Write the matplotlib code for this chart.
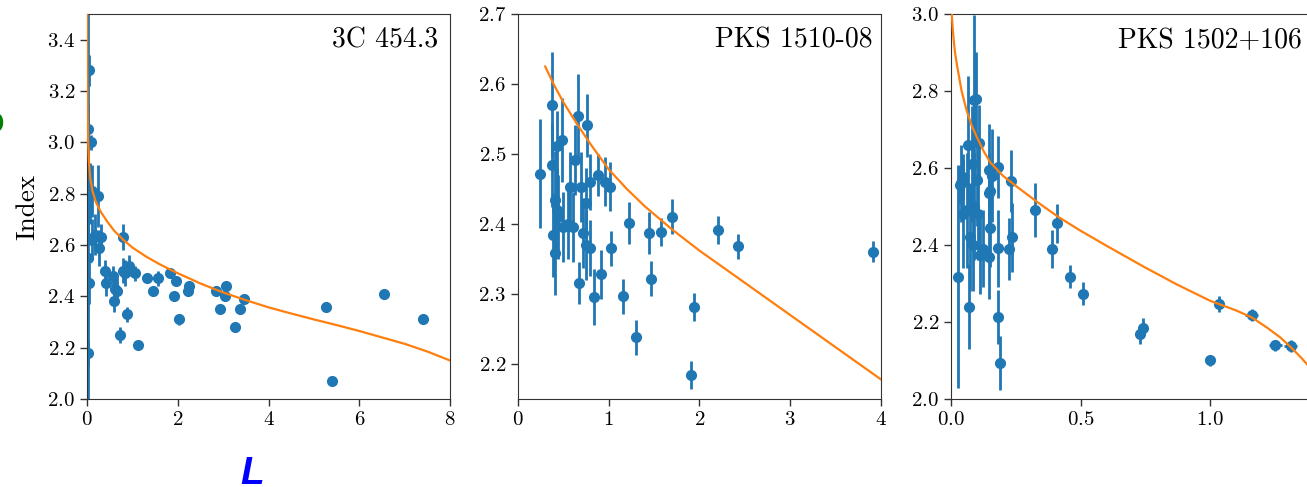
import matplotlib
matplotlib.use('Agg')
import matplotlib.pyplot as plt
import numpy as np

plt.rcParams['font.family'] = 'cmr10'
plt.rcParams['mathtext.fontset'] = 'cm'
plt.rcParams['axes.formatter.use_mathtext'] = True
plt.rcParams['axes.unicode_minus'] = False

# 3C 454.3
p1_x = [0.015, 0.03, 0.05, 0.08, 0.03, 0.05, 0.07, 0.12, 0.25, 0.10, 0.18, 0.30, 0.27,
        0.80, 0.40, 0.42, 0.58, 0.62, 0.60, 0.65, 0.73, 0.80, 0.84, 0.88, 0.92, 1.06,
        1.13, 1.32, 1.45, 1.57, 1.82, 1.92, 1.97, 2.02, 2.22, 2.25, 2.85, 2.93, 3.04,
        3.07, 3.27, 3.38, 3.47, 5.27, 5.39, 6.55, 7.40]
p1_y = [2.55, 3.05, 3.28, 3.00, 2.18, 2.45, 2.80, 2.81, 2.79, 2.62, 2.64, 2.63, 2.59,
        2.63, 2.50, 2.45, 2.48, 2.43, 2.38, 2.42, 2.25, 2.50, 2.49, 2.33, 2.52, 2.49,
        2.21, 2.47, 2.42, 2.47, 2.49, 2.40, 2.46, 2.31, 2.42, 2.44, 2.42, 2.35, 2.40,
        2.44, 2.28, 2.35, 2.39, 2.36, 2.07, 2.41, 2.31]
p1_e = [0.60, 0.45, 0.06, 0.03, 0.05, 0.08, 0.12, 0.10, 0.12, 0.08, 0.08, 0.05, 0.07,
        0.05, 0.04, 0.05, 0.04, 0.04, 0.04, 0.05, 0.03, 0.05, 0.05, 0.03, 0.04, 0.03,
        0.02, 0.02, 0.02, 0.03, 0.02, 0.02, 0.02, 0.02, 0.02, 0.02, 0.02, 0.015, 0.02,
        0.015, 0.015, 0.015, 0.015, 0.01, 0.01, 0.01, 0.01]
p1_fit_x = [0.002, 0.005, 0.01, 0.02, 0.04, 0.07, 0.12, 0.2, 0.3, 0.45, 0.6, 0.8, 1.0,
            1.3, 1.6, 2.0, 2.5, 3.0, 3.5, 4.0, 4.5, 5.0, 5.5, 6.0, 6.5, 7.0, 7.5, 8.0]
p1_fit_y = [3.50, 3.30, 3.15, 3.02, 2.93, 2.86, 2.81, 2.765, 2.73, 2.69, 2.655, 2.62,
            2.59, 2.555, 2.525, 2.49, 2.45, 2.415, 2.385, 2.357, 2.333, 2.31, 2.288,
            2.265, 2.24, 2.215, 2.185, 2.15]

# PKS 1510-08
p2_x = [0.24, 0.37, 0.43, 0.48, 0.38, 0.41, 0.43, 0.39, 0.41, 0.44, 0.50, 0.55, 0.61,
        0.57, 0.63, 0.66, 0.76, 0.70, 0.79, 0.75, 0.72, 0.75, 0.79, 0.885, 0.96, 1.01,
        1.22, 1.03, 0.675, 0.915, 0.84, 1.16, 1.30, 1.44, 1.47, 1.58, 1.70, 1.91, 1.94,
        2.20, 2.42, 3.91]
p2_y = [2.472, 2.570, 2.511, 2.520, 2.484, 2.434, 2.420, 2.384, 2.358, 2.410, 2.396,
        2.400, 2.396, 2.453, 2.491, 2.554, 2.541, 2.453, 2.460, 2.430, 2.387, 2.370,
        2.365, 2.470, 2.460, 2.453, 2.402, 2.365, 2.316, 2.328, 2.295, 2.297, 2.238,
        2.387, 2.322, 2.388, 2.410, 2.184, 2.281, 2.392, 2.368, 2.360]
p2_e = [0.078, 0.075, 0.05, 0.06, 0.06, 0.07, 0.06, 0.06, 0.06, 0.06, 0.05, 0.05, 0.05,
        0.05, 0.05, 0.06, 0.045, 0.05, 0.04, 0.05, 0.05, 0.05, 0.04, 0.03, 0.035, 0.035,
        0.03, 0.025, 0.03, 0.035, 0.04, 0.025, 0.025, 0.03, 0.025, 0.02, 0.025, 0.02,
        0.02, 0.02, 0.018, 0.015]
p2_fit_x = [0.3, 0.4, 0.5, 0.65, 0.8, 1.0, 1.2, 1.4, 1.7, 2.0, 2.5, 3.0, 3.5, 4.0]
p2_fit_y = [2.625, 2.598, 2.574, 2.543, 2.514, 2.478, 2.450, 2.425, 2.392, 2.362,
            2.316, 2.270, 2.224, 2.178]

# PKS 1502+106
p3_x = [0.028, 0.035, 0.045, 0.04, 0.07, 0.06, 0.087, 0.095, 0.066, 0.08, 0.10, 0.09,
        0.105, 0.073, 0.086, 0.048, 0.112, 0.11, 0.125, 0.145, 0.148, 0.145, 0.15,
        0.151, 0.16, 0.183, 0.183, 0.183, 0.19, 0.222, 0.235, 0.233, 0.326, 0.39, 0.41,
        0.46, 0.51, 0.73, 0.74, 1.00, 1.035, 1.16, 1.25, 1.31]
p3_y = [2.318, 2.556, 2.577, 2.560, 2.240, 2.490, 2.777, 2.780, 2.660, 2.610, 2.570,
        2.500, 2.480, 2.420, 2.400, 2.480, 2.374, 2.664, 2.390, 2.595, 2.370, 2.536,
        2.443, 2.540, 2.580, 2.603, 2.391, 2.214, 2.093, 2.390, 2.420, 2.566, 2.490,
        2.390, 2.456, 2.318, 2.273, 2.168, 2.185, 2.100, 2.247, 2.218, 2.139, 2.138]
p3_ye = [0.29, 0.05, 0.06, 0.10, 0.11, 0.15, 0.22, 0.12, 0.18, 0.15, 0.12, 0.14, 0.12,
         0.14, 0.12, 0.14, 0.10, 0.10, 0.10, 0.12, 0.11, 0.10, 0.10, 0.08, 0.12, 0.08,
         0.10, 0.07, 0.07, 0.08, 0.09, 0.08, 0.07, 0.05, 0.05, 0.03, 0.03, 0.025, 0.025,
         0.015, 0.02, 0.015, 0.015, 0.015]
p3_xe = [0.004] * 36 + [0.008, 0.01, 0.012, 0.012, 0.02, 0.025, 0.025, 0.025]
p3_fit_x = [0.003, 0.008, 0.0155, 0.025, 0.041, 0.06, 0.08, 0.10, 0.125, 0.151, 0.2,
            0.255, 0.332, 0.416, 0.5, 0.6, 0.745, 0.87, 1.0, 1.1, 1.16, 1.22, 1.27,
            1.31, 1.35, 1.38, 1.41]
p3_fit_y = [3.00, 2.95, 2.90, 2.86, 2.80, 2.75, 2.71, 2.68, 2.645, 2.615, 2.58, 2.551,
            2.512, 2.472, 2.437, 2.398, 2.343, 2.298, 2.255, 2.23, 2.212, 2.185, 2.16,
            2.135, 2.108, 2.085, 2.06]

panels = [
    dict(name='3C 454.3', x=p1_x, y=p1_y, ye=p1_e, xe=None, fx=p1_fit_x, fy=p1_fit_y,
         left=0.0666, xlim=(0, 8), ylim=(2.0, 3.5),
         xt=[0, 2, 4, 6, 8], yt=np.arange(2.0, 3.41, 0.2), tx=0.967),
    dict(name='PKS 1510-08', x=p2_x, y=p2_y, ye=p2_e, xe=None, fx=p2_fit_x, fy=p2_fit_y,
         left=0.3963, xlim=(0, 4), ylim=(2.15, 2.7),
         xt=[0, 1, 2, 3, 4], yt=np.arange(2.2, 2.71, 0.1), tx=0.977),
    dict(name='PKS 1502+106', x=p3_x, y=p3_y, ye=p3_ye, xe=p3_xe, fx=p3_fit_x, fy=p3_fit_y,
         left=0.7276, xlim=(0, 1.4), ylim=(2.0, 3.0),
         xt=[0.0, 0.5, 1.0], yt=np.arange(2.0, 3.01, 0.2), tx=0.967),
]

fig = plt.figure(figsize=(13.07, 4.87), dpi=100)

for p in panels:
    ax = fig.add_axes([p['left'], 0.1807, 0.2777, 0.7906])
    ax.errorbar(p['x'], p['y'], yerr=p['ye'], xerr=p['xe'], fmt='o', color='#1f77b4',
                ms=7, elinewidth=2, capsize=0, zorder=2)
    ax.plot(p['fx'], p['fy'], color='#ff7f0e', lw=1.6, zorder=3)
    ax.set_xlim(*p['xlim'])
    ax.set_ylim(*p['ylim'])
    ax.set_xticks(p['xt'])
    ax.set_yticks(p['yt'])
    ax.tick_params(labelsize=15, length=5, width=1, color='#333333')
    for s in ax.spines.values():
        s.set_color('#333333')
    ax.text(p['tx'], 0.965, p['name'], transform=ax.transAxes, ha='right', va='top',
            fontsize=20)
    if p['name'] == '3C 454.3':
        ax.set_ylabel('Index', fontsize=19.5, labelpad=6)

# overlay marks along the edges
fig.text(4 / 1307, 1 - 123 / 487, 'o', color='#008000', fontsize=28, fontweight='bold',
         family='Liberation Sans', ha='right', va='center')
fig.text(252 / 1307, 3 / 487, 'L', color='#0000ff', fontsize=28, fontweight='bold',
         fontstyle='italic', family='Liberation Sans', ha='center', va='baseline')

fig.savefig('out.png', dpi=100)
